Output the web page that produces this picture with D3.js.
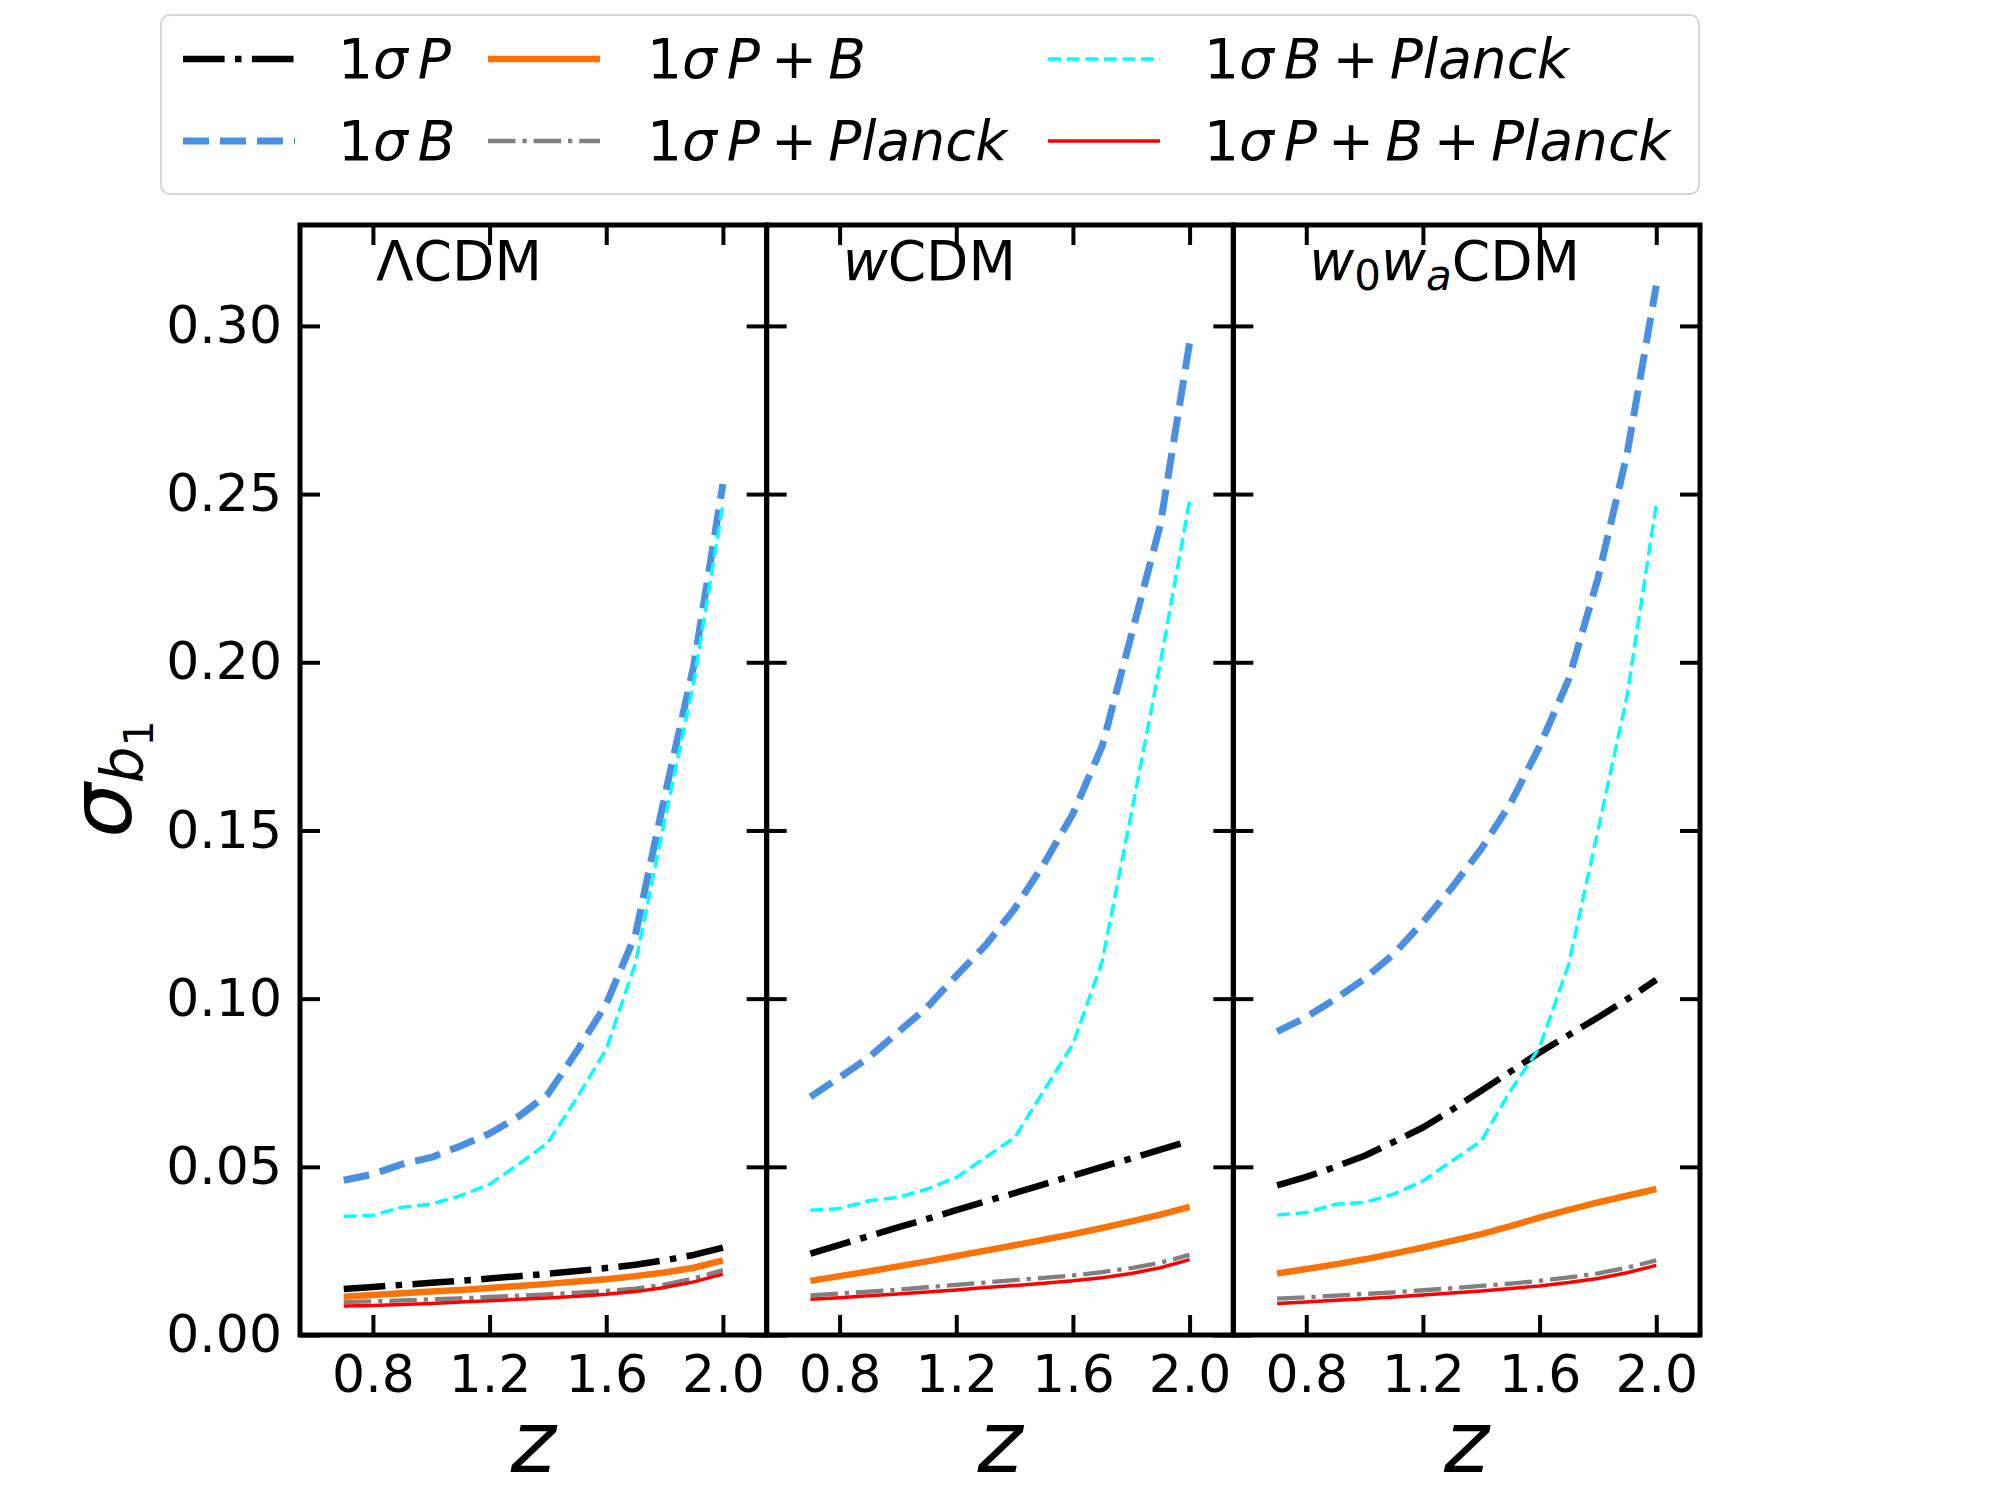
<!DOCTYPE html>
<html><head><meta charset="utf-8">
<script src="https://cdn.jsdelivr.net/npm/d3@7"></script>
<style>body{margin:0;background:#fff} text{font-family:"DejaVu Sans",sans-serif}</style>
</head><body><svg id="chart" width="2000" height="1500"></svg>
<script>
// ---------------- data ----------------
const redshifts = [0.7,0.8,0.9,1.0,1.1,1.2,1.3,1.4,1.5,1.6,1.7,1.8,1.9,2.0];
const modelNames = ["LCDM","wCDM","w0waCDM"];
const xTicks = [0.8,1.2,1.6,2.0];
const yTicks = [0.00,0.05,0.10,0.15,0.20,0.25,0.30];

// LambdaCDM
const P_LCDM      = [0.0137,0.0143,0.0149,0.0155,0.0161,0.0168,0.0175,0.0182,0.0190,0.0199,0.0209,0.0222,0.0238,0.0260];
const B_LCDM      = [0.0460,0.0478,0.0508,0.0528,0.0562,0.0599,0.0650,0.0716,0.0845,0.0984,0.1190,0.1600,0.1990,0.2530];
const PB_LCDM     = [0.0114,0.0119,0.0124,0.0129,0.0134,0.0140,0.0146,0.0152,0.0159,0.0166,0.0175,0.0186,0.0200,0.0222];
const PPl_LCDM    = [0.0098,0.0100,0.0103,0.0106,0.0109,0.0113,0.0117,0.0121,0.0126,0.0131,0.0138,0.0150,0.0168,0.0193];
const BPl_LCDM    = [0.0352,0.0356,0.0380,0.0389,0.0414,0.0448,0.0508,0.0572,0.0706,0.0850,0.1105,0.1530,0.1940,0.2470];
const PBPl_LCDM   = [0.0086,0.0088,0.0091,0.0094,0.0098,0.0102,0.0106,0.0110,0.0115,0.0121,0.0129,0.0141,0.0158,0.0181];
// wCDM
const P_wCDM      = [0.0242,0.0268,0.0294,0.0320,0.0345,0.0371,0.0397,0.0422,0.0448,0.0474,0.0500,0.0525,0.0551,0.0577];
const B_wCDM      = [0.0708,0.0766,0.0825,0.0900,0.0974,0.1068,0.1158,0.1267,0.1400,0.1550,0.1750,0.2080,0.2410,0.2950];
const PB_wCDM     = [0.0161,0.0175,0.0189,0.0204,0.0219,0.0235,0.0251,0.0267,0.0283,0.0300,0.0318,0.0338,0.0358,0.0381];
const PPl_wCDM    = [0.0118,0.0123,0.0129,0.0135,0.0142,0.0149,0.0156,0.0163,0.0170,0.0177,0.0187,0.0199,0.0215,0.0238];
const BPl_wCDM    = [0.0371,0.0376,0.0399,0.0409,0.0434,0.0468,0.0528,0.0587,0.0726,0.0865,0.1110,0.1550,0.2000,0.2480];
const PBPl_wCDM   = [0.0106,0.0111,0.0117,0.0122,0.0128,0.0134,0.0141,0.0147,0.0154,0.0161,0.0170,0.0183,0.0200,0.0224];
// w0waCDM
const P_w0wa      = [0.0445,0.0470,0.0500,0.0533,0.0574,0.0617,0.0670,0.0726,0.0783,0.0840,0.0892,0.0944,0.0998,0.1056];
const B_w0wa      = [0.0902,0.0945,0.0999,0.1059,0.1133,0.1227,0.1331,0.1445,0.1580,0.1750,0.1950,0.2250,0.2620,0.3120];
const PB_w0wa     = [0.0183,0.0196,0.0210,0.0225,0.0242,0.0260,0.0280,0.0300,0.0324,0.0349,0.0372,0.0394,0.0414,0.0434];
const PPl_w0wa    = [0.0108,0.0112,0.0117,0.0122,0.0127,0.0133,0.0139,0.0146,0.0153,0.0161,0.0171,0.0183,0.0200,0.0222];
const BPl_w0wa    = [0.0357,0.0364,0.0389,0.0394,0.0419,0.0458,0.0518,0.0577,0.0726,0.0855,0.1103,0.1500,0.1900,0.2470];
const PBPl_w0wa   = [0.0094,0.0098,0.0103,0.0108,0.0113,0.0119,0.0125,0.0131,0.0138,0.0146,0.0156,0.0168,0.0185,0.0207];

const panelData = [
  [P_LCDM, B_LCDM, PB_LCDM, PPl_LCDM, BPl_LCDM, PBPl_LCDM],
  [P_wCDM, B_wCDM, PB_wCDM, PPl_wCDM, BPl_wCDM, PBPl_wCDM],
  [P_w0wa, B_w0wa, PB_w0wa, PPl_w0wa, BPl_w0wa, PBPl_w0wa]
];

// series styles (same order as data arrays)
const seriesStyle = [
  {color:"#000000", w:6.5, dash:"41.6,10.4,6.5,10.4"},
  {color:"#4a90e2", w:7,   dash:"26,11"},
  {color:"#f97306", w:6.5, dash:null},
  {color:"#808080", w:4.3, dash:"27.5,6.9,4.3,6.9"},
  {color:"#00ffff", w:3.5, dash:"13,5.6"},
  {color:"#ff0000", w:3.5, dash:null}
];
// legend labels: [text, italic?, dx]
const legendLabels = [
  [["1",0,0],["σ",1,0],["P",1,10]],
  [["1",0,0],["σ",1,0],["B",1,10]],
  [["1",0,0],["σ",1,0],["P",1,10],["+",0,11],["B",1,11]],
  [["1",0,0],["σ",1,0],["P",1,10],["+",0,11],["Planck",1,11]],
  [["1",0,0],["σ",1,0],["B",1,10],["+",0,11],["Planck",1,11]],
  [["1",0,0],["σ",1,0],["P",1,10],["+",0,11],["B",1,11],["+",0,11],["Planck",1,11]]
];

// ---------------- layout ----------------
const svg = d3.select("#chart");
const left = 300, panelW = 466.67, topY = 225, botY = 1335;
const y = d3.scaleLinear().domain([0, 0.33]).range([botY, topY]);

panelData.forEach((series, i) => {
  const x0 = left + i * panelW;
  const x = d3.scaleLinear().domain([0.55, 2.15]).range([x0, x0 + panelW]);
  const g = svg.append("g");
  const line = d3.line().x(d => x(d[0])).y(d => y(d[1]));
  series.forEach((vals, k) => {
    const st = seriesStyle[k];
    g.append("path")
      .datum(redshifts.map((z, j) => [z, vals[j]]))
      .attr("d", line)
      .attr("fill", "none")
      .attr("stroke", st.color)
      .attr("stroke-width", st.w)
      .attr("stroke-linejoin", "round")
      .attr("stroke-dasharray", st.dash);
  });

  const tickLen = 20;
  const bottomAx = d3.axisBottom(x).tickValues(xTicks).tickFormat(d3.format(".1f"))
    .tickSizeInner(-tickLen).tickSizeOuter(0).tickPadding(20);
  const topAx = d3.axisTop(x).tickValues(xTicks).tickFormat("")
    .tickSizeInner(-tickLen).tickSizeOuter(0);
  const leftAx = d3.axisLeft(y).tickValues(yTicks).tickFormat(i === 0 ? d3.format(".2f") : "")
    .tickSizeInner(-tickLen).tickSizeOuter(0).tickPadding(18);
  const rightAx = d3.axisRight(y).tickValues(yTicks).tickFormat("")
    .tickSizeInner(-tickLen).tickSizeOuter(0);

  const axes = [
    [bottomAx, `translate(0,${botY})`],
    [topAx, `translate(0,${topY})`],
    [leftAx, `translate(${x0},0)`],
    [rightAx, `translate(${x0 + panelW},0)`]
  ];
  axes.forEach(([ax, tr]) => {
    const a = svg.append("g").attr("transform", tr).call(ax);
    a.select(".domain").remove();
    a.selectAll(".tick line").attr("stroke", "#000").attr("stroke-width", 4);
    a.selectAll(".tick text").attr("font-size", 52).attr("fill", "#000")
      .attr("font-family", "DejaVu Sans");
  });

  svg.append("rect").attr("x", x0).attr("y", topY).attr("width", panelW).attr("height", botY - topY)
    .attr("fill", "none").attr("stroke", "#000").attr("stroke-width", 5);

  svg.append("text").attr("x", x0 + panelW / 2).attr("y", 1472)
    .attr("text-anchor", "middle").attr("font-size", 86).attr("font-style", "italic").text("z");

  const t = svg.append("text").attr("x", x0 + 76).attr("y", 280).attr("font-size", 55);
  if (i === 0) {
    t.text("ΛCDM");
  } else if (i === 1) {
    t.append("tspan").attr("font-style", "italic").text("w");
    t.append("tspan").text("CDM");
  } else {
    t.append("tspan").attr("font-style", "italic").text("w");
    t.append("tspan").attr("font-size", 42).attr("dy", 10).text("0");
    t.append("tspan").attr("font-style", "italic").attr("dy", -10).text("w");
    t.append("tspan").attr("font-size", 42).attr("font-style", "italic").attr("dy", 10).text("a");
    t.append("tspan").attr("dy", -10).text("CDM");
  }
});

const yl = svg.append("text").attr("transform", "translate(131,779) rotate(-90)")
  .attr("text-anchor", "middle");
yl.append("tspan").attr("font-size", 86).attr("font-style", "italic").text("σ");
yl.append("tspan").attr("font-size", 58).attr("font-style", "italic").attr("dy", 12).text("b");
yl.append("tspan").attr("font-size", 41).attr("dy", 10).text("1");

// ---------------- legend ----------------
const lg = svg.append("g");
lg.append("rect").attr("x", 161).attr("y", 15).attr("width", 1538).attr("height", 179)
  .attr("rx", 9).attr("fill", "#fff").attr("stroke", "#d6d6d6").attr("stroke-width", 2);
const colHandleX = [183, 488, 1048];
const colTextX = [338, 647, 1204];
const rowY = [59, 141];
legendLabels.forEach((parts, k) => {
  const col = Math.floor(k / 2), row = k % 2;
  const st = seriesStyle[k];
  lg.append("line").attr("x1", colHandleX[col]).attr("x2", colHandleX[col] + 112)
    .attr("y1", rowY[row]).attr("y2", rowY[row])
    .attr("stroke", st.color).attr("stroke-width", st.w).attr("stroke-dasharray", st.dash);
  const tx = lg.append("text").attr("x", colTextX[col]).attr("y", rowY[row] + 19).attr("font-size", 55);
  parts.forEach(([s, it, dx]) => {
    tx.append("tspan").attr("dx", dx).attr("font-style", it ? "italic" : "normal").text(s);
  });
});
</script></body></html>
